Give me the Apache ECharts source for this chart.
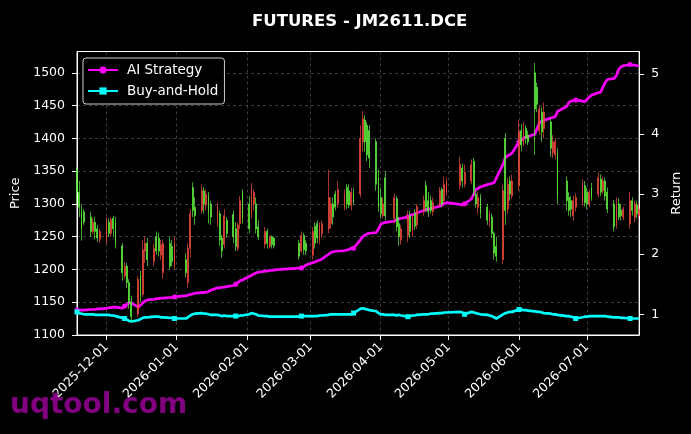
<!DOCTYPE html>
<html>
<head>
<meta charset="utf-8">
<script src="https://cdn.jsdelivr.net/npm/echarts@6/dist/echarts.min.js"></script>
<style>
html,body{margin:0;padding:0;background:#000;}
#chart{width:691px;height:434px;}
</style>
</head>
<body>
<div id="chart"></div>
<script>
// ---- data ----
const firstDay = '2025-11-18';
const lastDay = '2026-07-24';
const holidays = ['2026-01-01','2026-01-02','2026-02-16','2026-02-17','2026-02-18','2026-02-19','2026-02-20','2026-02-23','2026-04-06','2026-05-01','2026-05-04','2026-05-05','2026-06-19'];
const monthTicks = ['2025-12-01','2026-01-01','2026-02-01','2026-03-01','2026-04-01','2026-05-01','2026-06-01','2026-07-01'];
const priceTicks = [1100,1150,1200,1250,1300,1350,1400,1450,1500];
const returnTicks = [1,2,3,4,5];

// [open, close, low, high] per trading day
const candles = [
[1352,1318,1300,1356],[1318,1295,1280,1335],[1290,1262,1244,1300],[1288,1272,1268,1292],
[1280,1258,1250,1288],[1258,1272,1254,1278],[1272,1258,1246,1280],[1262,1248,1242,1268],[1246,1258,1240,1262],
[1243,1274,1238,1280],[1272,1255,1250,1278],[1255,1276,1250,1280],[1278,1262,1250,1282],[1272,1238,1232,1280],
[1236,1195,1183,1240],[1190,1205,1185,1212],[1205,1180,1172,1210],[1180,1150,1140,1185],[1150,1128,1120,1160],
[1132,1185,1128,1190],[1190,1160,1150,1198],[1162,1230,1158,1245],[1228,1240,1210,1250],[1240,1215,1205,1248],
[1212,1232,1205,1240],[1250,1228,1222,1258],[1248,1228,1220,1256],[1222,1238,1214,1245],[1195,1240,1186,1246],
[1240,1205,1200,1250],[1235,1212,1205,1245],[1205,1240,1200,1250],
[1215,1195,1188,1225],[1180,1232,1172,1240],[1232,1285,1218,1292],[1325,1290,1280,1333],[1295,1282,1268,1310],
[1290,1320,1285,1330],[1320,1300,1285,1326],[1298,1315,1290,1322],[1312,1288,1270,1318],[1300,1280,1268,1305],
[1275,1296,1265,1302],[1285,1245,1236,1290],[1248,1228,1218,1252],[1238,1282,1232,1292],[1275,1255,1248,1280],
[1284,1250,1240,1290],[1262,1235,1228,1272],[1232,1268,1228,1272],[1270,1305,1262,1312],[1318,1278,1270,1322],
[1300,1262,1255,1312],[1285,1325,1278,1332],[1300,1318,1290,1322],[1300,1262,1255,1310],[1265,1250,1245,1275],
[1238,1258,1232,1265],[1258,1240,1232,1262],[1235,1250,1232,1252],[1250,1238,1232,1252],[1248,1236,1232,1250],
[1240,1220,1215,1245],[1228,1252,1225,1258],[1252,1230,1222,1256],[1240,1228,1222,1245],
[1222,1258,1215,1265],[1266,1240,1232,1272],[1270,1248,1240,1275],[1245,1268,1238,1272],[1255,1270,1248,1275],
[1262,1310,1255,1352],[1270,1300,1262,1310],[1300,1280,1268,1310],[1315,1295,1290,1320],[1300,1322,1295,1335],
[1295,1315,1290,1322],[1325,1300,1292,1330],[1320,1298,1294,1330],[1298,1318,1290,1325],[1318,1302,1298,1325],
[1315,1400,1310,1420],[1395,1430,1380,1442],[1428,1395,1380,1435],[1420,1375,1365,1425],[1412,1370,1355,1420],
[1395,1330,1320,1400],[1340,1295,1288,1352],
[1310,1285,1278,1325],[1282,1300,1278,1310],[1340,1282,1275,1350],
[1278,1310,1270,1316],[1308,1265,1258,1312],[1270,1250,1236,1280],[1245,1262,1238,1268],
[1252,1280,1242,1290],[1282,1258,1248,1290],[1258,1280,1250,1285],[1285,1266,1260,1292],[1268,1296,1262,1300],
[1290,1305,1282,1313],[1328,1295,1288,1335],[1305,1288,1280,1318],[1305,1290,1285,1313],[1288,1302,1282,1310],
[1300,1320,1296,1326],[1322,1300,1295,1325],[1305,1330,1300,1342],[1318,1335,1312,1340],
[1328,1360,1322,1372],[1355,1335,1325,1362],[1330,1348,1325,1360],
[1335,1360,1330,1368],[1365,1320,1312,1370],[1315,1300,1294,1320],[1295,1310,1285,1318],[1310,1285,1278,1315],
[1295,1275,1268,1300],[1272,1285,1265,1290],[1280,1255,1248,1285],[1255,1225,1215,1258],[1235,1220,1212,1250],
[1215,1320,1208,1330],[1400,1290,1268,1408],[1292,1330,1285,1340],[1335,1315,1305,1342],[1312,1335,1308,1345],
[1328,1410,1320,1428],[1412,1390,1380,1422],[1392,1415,1388,1425],[1415,1400,1392,1420],[1405,1395,1390,1412],
[1500,1445,1375,1515],[1478,1452,1440,1485],[1412,1445,1405,1450],[1440,1410,1395,1448],[1415,1440,1400,1455],
[1425,1385,1372,1430],[1378,1395,1370,1405],[1375,1395,1368,1400],[1378,1310,1300,1385],
[1335,1305,1290,1342],[1310,1290,1282,1318],[1305,1292,1280,1312],[1282,1305,1275,1312],[1295,1310,1288,1316],
[1302,1330,1298,1338],[1328,1302,1296,1335],
[1318,1300,1292,1325],[1300,1318,1295,1322],[1325,1310,1305,1332],
[1315,1340,1310,1348],[1338,1318,1312,1345],[1320,1335,1315,1342],[1335,1312,1305,1340],[1318,1292,1286,1325],
[1300,1265,1258,1306],[1268,1298,1262,1310],[1300,1280,1275,1308],[1290,1282,1275,1300],[1280,1292,1275,1296],
[1270,1305,1262,1318],[1305,1290,1282,1310],[1280,1300,1272,1305],[1298,1285,1278,1305],[1282,1292,1278,1300]
];

const aiStrategy = [
1.07,1.07,1.07,1.07,1.08,1.08,1.08,1.09,1.09,
1.10,1.11,1.11,1.12,1.12,1.10,1.14,1.16,1.19,1.19,1.12,1.15,1.19,1.22,1.24,1.25,1.26,1.26,1.27,1.27,1.28,1.28,1.29,
1.31,1.32,1.33,1.34,1.35,1.36,1.36,1.37,1.38,1.40,1.44,1.44,1.45,1.45,1.46,1.48,1.50,1.53,1.56,1.57,
1.63,1.65,1.67,1.69,1.70,1.72,1.72,1.73,1.73,1.74,1.77,1.77,1.79,1.82,
1.86,1.87,1.89,1.90,1.92,2.00,2.03,2.04,2.05,2.05,2.06,2.07,2.08,2.10,2.10,2.24,2.29,2.32,2.34,2.35,2.36,2.42,
2.50,2.52,2.53,2.55,2.58,2.59,2.60,2.62,2.65,2.66,2.67,2.69,2.73,2.74,2.75,2.76,2.77,2.80,2.82,2.84,2.86,
2.83,2.82,2.84,2.92,3.00,3.08,3.10,3.12,3.16,3.17,3.18,3.19,3.27,3.50,3.62,3.64,3.66,3.69,
3.87,3.90,3.93,3.95,3.96,4.00,4.10,4.19,4.21,4.23,4.27,4.28,4.29,4.38,4.46,4.53,4.55,4.56,4.57,4.55,4.54,
4.58,4.62,4.65,4.69,4.70,4.78,4.86,4.91,4.93,4.98,5.08,5.12,5.14,5.16,5.15,5.15,5.14,5.14
];

const buyHold = [
1.04,1.02,1.01,1.00,1.00,1.00,0.99,0.99,0.99,
0.99,0.99,0.98,0.98,0.97,0.94,0.93,0.91,0.89,0.88,0.90,0.92,0.94,0.95,0.95,0.96,0.96,0.96,0.95,0.95,0.94,0.94,0.93,
0.93,0.95,0.98,1.00,1.01,1.02,1.01,1.01,1.00,0.99,0.99,0.98,0.97,0.98,0.97,0.97,0.97,0.97,0.98,0.98,
1.00,1.02,1.01,1.00,0.98,0.97,0.97,0.96,0.96,0.96,0.96,0.97,0.97,0.97,
0.97,0.97,0.97,0.98,0.98,0.99,1.00,1.00,1.00,1.00,1.00,1.00,1.00,1.00,1.02,1.09,1.10,1.09,1.08,1.07,1.05,1.02,
1.00,1.00,0.99,0.99,0.98,0.99,0.98,0.96,0.97,0.98,0.98,0.99,1.00,1.00,1.00,1.01,1.01,1.02,1.02,1.03,1.03,
1.04,1.03,1.00,1.04,1.03,1.02,1.01,1.00,0.99,0.98,0.97,0.95,0.93,1.00,1.02,1.03,1.04,1.04,
1.08,1.08,1.07,1.07,1.06,1.05,1.04,1.04,1.03,1.02,1.01,1.00,1.00,0.99,0.97,0.97,0.96,0.95,0.93,0.95,0.96,
0.96,0.97,0.97,0.97,0.97,0.97,0.97,0.96,0.95,0.95,0.95,0.94,0.94,0.93,0.93,0.93,0.93,0.93
];

const markerIdx = [0,15,31,48,63,80,95,111,127,145,161];

// ---- build calendar categories ----
function ymd(d){
  const m = d.getUTCMonth()+1, dd = d.getUTCDate();
  return d.getUTCFullYear()+'-'+(m<10?'0':'')+m+'-'+(dd<10?'0':'')+dd;
}
const days = [];
const isTrading = [];
{
  let d = new Date(firstDay+'T00:00:00Z');
  const end = new Date(lastDay+'T00:00:00Z');
  while (d <= end) {
    const s = ymd(d);
    const wd = d.getUTCDay();
    days.push(s);
    isTrading.push(wd !== 0 && wd !== 6 && holidays.indexOf(s) < 0);
    d = new Date(d.getTime() + 86400000);
  }
}
const candleData = [], aiData = [], bhData = [];
let t = 0;
for (let i = 0; i < days.length; i++) {
  if (isTrading[i] && t < candles.length) {
    const mark = markerIdx.indexOf(t) >= 0;
    candleData.push(candles[t]);
    aiData.push({value: aiStrategy[t], symbol: mark ? 'circle' : 'none'});
    bhData.push({value: buyHold[t], symbol: mark ? 'rect' : 'none'});
    t++;
  } else {
    candleData.push(['-','-','-','-']);
    aiData.push('-');
    bhData.push('-');
  }
}
const isMonthTick = (idx, val) => monthTicks.indexOf(val) >= 0;

const FONT = 'DejaVu Sans';
const chart = echarts.init(document.getElementById('chart'));
chart.setOption({
  backgroundColor: '#000',
  animation: false,
  textStyle: {fontFamily: FONT},
  title: {
    text: 'FUTURES - JM2611.DCE', left: 247, top: 8,
    textStyle: {color: '#fff', fontSize: 16.5, fontWeight: 'bold', fontFamily: FONT}
  },
  legend: {
    left: 83, top: 58, orient: 'vertical',
    padding: [5, 6, 6, 4],
    itemWidth: 30, itemHeight: 9, itemGap: 7,
    backgroundColor: 'rgba(0,0,0,0.85)', borderColor: '#cccccc', borderWidth: 1, borderRadius: 3,
    textStyle: {color: '#fff', fontSize: 13.5, fontFamily: FONT, padding: [0,0,0,4]},
    data: ['AI Strategy', 'Buy-and-Hold']
  },
  grid: {left: 77, right: 48, top: 51.5, bottom: 99, show: true, borderColor: '#fff', borderWidth: 1},
  xAxis: {
    type: 'category', data: days, boundaryGap: false,
    axisLine: {lineStyle: {color: '#fff'}},
    axisTick: {interval: isMonthTick, length: 5, lineStyle: {color: '#fff'}},
    axisLabel: {interval: isMonthTick, rotate: 45, color: '#fff', fontSize: 12.5, margin: 10, fontFamily: FONT},
    splitLine: {show: true, interval: isMonthTick, lineStyle: {color: 'rgba(140,140,140,0.55)', type: [3, 3], width: 0.8}}
  },
  yAxis: [
    {
      type: 'value', position: 'left', min: 1100, max: 1532.6, interval: 50,
      name: 'Price', nameLocation: 'middle', nameGap: 48,
      nameTextStyle: {color: '#fff', fontSize: 13, fontFamily: FONT},
      axisLine: {show: true, lineStyle: {color: '#fff'}},
      axisTick: {show: true, length: 5, customValues: priceTicks, lineStyle: {color: '#fff'}},
      axisLabel: {customValues: priceTicks, color: '#fff', fontSize: 12.5, margin: 12, fontFamily: FONT,
        formatter: v => String(Math.round(v))},
      splitLine: {show: true, lineStyle: {color: 'rgba(140,140,140,0.55)', type: [3, 3], width: 0.8}}
    },
    {
      type: 'value', position: 'right', min: 0.655, max: 5.377,
      name: 'Return', nameLocation: 'middle', nameGap: 24,
      nameTextStyle: {color: '#fff', fontSize: 13, fontFamily: FONT},
      axisLine: {show: true, lineStyle: {color: '#fff'}},
      axisTick: {show: true, length: 5, customValues: returnTicks, lineStyle: {color: '#fff'}},
      axisLabel: {customValues: returnTicks, color: '#fff', fontSize: 12.5, margin: 12, fontFamily: FONT,
        formatter: v => String(Math.round(v))},
      splitLine: {show: false}
    }
  ],
  series: [
    {
      name: 'Price', type: 'candlestick', data: candleData, xAxisIndex: 0, yAxisIndex: 0,
      barWidth: 1.4, z: 3,
      itemStyle: {color: '#ef4b3c', color0: '#5ef03f', borderColor: '#ef4b3c', borderColor0: '#5ef03f', borderWidth: 0.7}
    },
    {
      name: 'AI Strategy', type: 'line', data: aiData, yAxisIndex: 1, connectNulls: true,
      symbol: 'circle', symbolSize: 5, showSymbol: true, showAllSymbol: true, z: 2,
      lineStyle: {color: '#ff00ff', width: 2.7}, itemStyle: {color: '#ff00ff'}
    },
    {
      name: 'Buy-and-Hold', type: 'line', data: bhData, yAxisIndex: 1, connectNulls: true,
      symbol: 'rect', symbolSize: 5, showSymbol: true, showAllSymbol: true, z: 2,
      lineStyle: {color: '#00ffff', width: 2.7}, itemStyle: {color: '#00ffff'}
    }
  ],
  graphic: [
    {
      type: 'text', left: 10, top: 392, z: 100,
      style: {text: 'uqtool.com', fill: '#800080', font: 'bold 28px "DejaVu Sans"'}
    }
  ]
});
</script>
</body>
</html>
